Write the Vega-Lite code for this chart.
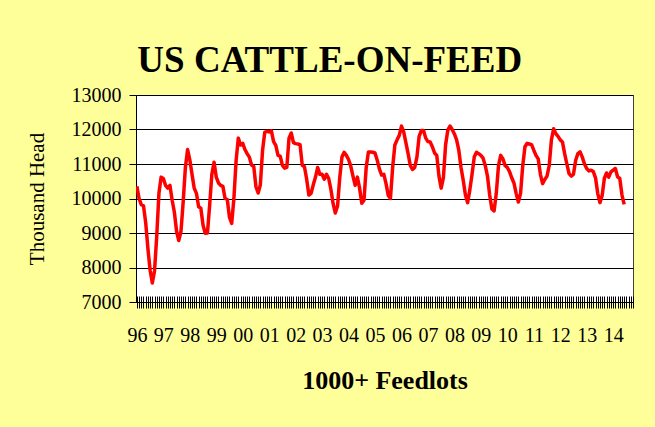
{
  "$schema": "https://vega.github.io/schema/vega-lite/v6.json",
  "width": 497,
  "height": 207,
  "autosize": {"type": "none"},
  "padding": {"left": 136, "top": 95, "right": 22, "bottom": 125},
  "background": "#FFFF99",
  "config": {
    "view": {"fill": "white", "stroke": "#404040", "strokeWidth": 1},
    "font": "Liberation Serif"
  },
  "title": {
    "text": "US CATTLE-ON-FEED",
    "font": "Liberation Serif",
    "fontSize": 37,
    "fontWeight": "bold",
    "color": "black",
    "anchor": "middle",
    "frame": "bounds",
    "baseline": "alphabetic",
    "offset": -24
  },
  "data": {
    "values": [
      {"month": 0, "head": 10350}, {"month": 1, "head": 10000}, {"month": 2, "head": 9820}, {"month": 3, "head": 9790},
      {"month": 4, "head": 9300}, {"month": 5, "head": 8550}, {"month": 6, "head": 7920}, {"month": 7, "head": 7550},
      {"month": 8, "head": 7900}, {"month": 9, "head": 8900}, {"month": 10, "head": 10150}, {"month": 11, "head": 10620},
      {"month": 12, "head": 10580}, {"month": 13, "head": 10380}, {"month": 14, "head": 10300}, {"month": 15, "head": 10380},
      {"month": 16, "head": 9950}, {"month": 17, "head": 9600}, {"month": 18, "head": 9050}, {"month": 19, "head": 8780},
      {"month": 20, "head": 9050}, {"month": 21, "head": 9900}, {"month": 22, "head": 10900}, {"month": 23, "head": 11420},
      {"month": 24, "head": 11120}, {"month": 25, "head": 10700}, {"month": 26, "head": 10300}, {"month": 27, "head": 10150},
      {"month": 28, "head": 9760}, {"month": 29, "head": 9720}, {"month": 30, "head": 9230}, {"month": 31, "head": 8990},
      {"month": 32, "head": 9000}, {"month": 33, "head": 9800}, {"month": 34, "head": 10700}, {"month": 35, "head": 11050},
      {"month": 36, "head": 10620}, {"month": 37, "head": 10450}, {"month": 38, "head": 10380}, {"month": 39, "head": 10350},
      {"month": 40, "head": 10000}, {"month": 41, "head": 9970}, {"month": 42, "head": 9450}, {"month": 43, "head": 9280},
      {"month": 44, "head": 10000}, {"month": 45, "head": 11100}, {"month": 46, "head": 11750}, {"month": 47, "head": 11550},
      {"month": 48, "head": 11600}, {"month": 49, "head": 11420}, {"month": 50, "head": 11300}, {"month": 51, "head": 11200},
      {"month": 52, "head": 10970}, {"month": 53, "head": 10930}, {"month": 54, "head": 10340}, {"month": 55, "head": 10160},
      {"month": 56, "head": 10400}, {"month": 57, "head": 11400}, {"month": 58, "head": 11920}, {"month": 59, "head": 11950},
      {"month": 60, "head": 11930}, {"month": 61, "head": 11960}, {"month": 62, "head": 11650}, {"month": 63, "head": 11540},
      {"month": 64, "head": 11250}, {"month": 65, "head": 11230}, {"month": 66, "head": 10960}, {"month": 67, "head": 10880},
      {"month": 68, "head": 10900}, {"month": 69, "head": 11750}, {"month": 70, "head": 11900}, {"month": 71, "head": 11620},
      {"month": 72, "head": 11590}, {"month": 73, "head": 11580}, {"month": 74, "head": 11560}, {"month": 75, "head": 10960},
      {"month": 76, "head": 10920}, {"month": 77, "head": 10560}, {"month": 78, "head": 10100}, {"month": 79, "head": 10150},
      {"month": 80, "head": 10400}, {"month": 81, "head": 10620}, {"month": 82, "head": 10900}, {"month": 83, "head": 10700},
      {"month": 84, "head": 10700}, {"month": 85, "head": 10560}, {"month": 86, "head": 10700}, {"month": 87, "head": 10580},
      {"month": 88, "head": 10260}, {"month": 89, "head": 9850}, {"month": 90, "head": 9580}, {"month": 91, "head": 9780},
      {"month": 92, "head": 10600}, {"month": 93, "head": 11200}, {"month": 94, "head": 11340}, {"month": 95, "head": 11250},
      {"month": 96, "head": 11130}, {"month": 97, "head": 10940}, {"month": 98, "head": 10650}, {"month": 99, "head": 10380},
      {"month": 100, "head": 10620}, {"month": 101, "head": 10300}, {"month": 102, "head": 9860}, {"month": 103, "head": 9950},
      {"month": 104, "head": 10900}, {"month": 105, "head": 11350}, {"month": 106, "head": 11350}, {"month": 107, "head": 11340},
      {"month": 108, "head": 11320}, {"month": 109, "head": 11110}, {"month": 110, "head": 10850}, {"month": 111, "head": 10680},
      {"month": 112, "head": 10700}, {"month": 113, "head": 10430}, {"month": 114, "head": 10090}, {"month": 115, "head": 10000},
      {"month": 116, "head": 10900}, {"month": 117, "head": 11550}, {"month": 118, "head": 11700}, {"month": 119, "head": 11830},
      {"month": 120, "head": 12100}, {"month": 121, "head": 11930}, {"month": 122, "head": 11620}, {"month": 123, "head": 11300},
      {"month": 124, "head": 10960}, {"month": 125, "head": 10840}, {"month": 126, "head": 10900}, {"month": 127, "head": 11200},
      {"month": 128, "head": 11800}, {"month": 129, "head": 11970}, {"month": 130, "head": 11970}, {"month": 131, "head": 11750},
      {"month": 132, "head": 11650}, {"month": 133, "head": 11640}, {"month": 134, "head": 11500}, {"month": 135, "head": 11320},
      {"month": 136, "head": 11250}, {"month": 137, "head": 10650}, {"month": 138, "head": 10300}, {"month": 139, "head": 10600},
      {"month": 140, "head": 11550}, {"month": 141, "head": 11980}, {"month": 142, "head": 12100}, {"month": 143, "head": 12000},
      {"month": 144, "head": 11870}, {"month": 145, "head": 11700}, {"month": 146, "head": 11400}, {"month": 147, "head": 10900},
      {"month": 148, "head": 10530}, {"month": 149, "head": 10100}, {"month": 150, "head": 9880}, {"month": 151, "head": 10250},
      {"month": 152, "head": 10700}, {"month": 153, "head": 11200}, {"month": 154, "head": 11340}, {"month": 155, "head": 11300},
      {"month": 156, "head": 11250}, {"month": 157, "head": 11170}, {"month": 158, "head": 10950}, {"month": 159, "head": 10650},
      {"month": 160, "head": 10100}, {"month": 161, "head": 9700}, {"month": 162, "head": 9640}, {"month": 163, "head": 10150},
      {"month": 164, "head": 10950}, {"month": 165, "head": 11250}, {"month": 166, "head": 11150}, {"month": 167, "head": 10950},
      {"month": 168, "head": 10900}, {"month": 169, "head": 10780}, {"month": 170, "head": 10600}, {"month": 171, "head": 10450},
      {"month": 172, "head": 10150}, {"month": 173, "head": 9900}, {"month": 174, "head": 10150}, {"month": 175, "head": 10950},
      {"month": 176, "head": 11500}, {"month": 177, "head": 11600}, {"month": 178, "head": 11580}, {"month": 179, "head": 11560},
      {"month": 180, "head": 11400}, {"month": 181, "head": 11250}, {"month": 182, "head": 11150}, {"month": 183, "head": 10700},
      {"month": 184, "head": 10430}, {"month": 185, "head": 10550}, {"month": 186, "head": 10650}, {"month": 187, "head": 10950},
      {"month": 188, "head": 11700}, {"month": 189, "head": 12020}, {"month": 190, "head": 11880}, {"month": 191, "head": 11800},
      {"month": 192, "head": 11700}, {"month": 193, "head": 11640}, {"month": 194, "head": 11300}, {"month": 195, "head": 11000},
      {"month": 196, "head": 10720}, {"month": 197, "head": 10650}, {"month": 198, "head": 10700}, {"month": 199, "head": 11110},
      {"month": 200, "head": 11300}, {"month": 201, "head": 11350}, {"month": 202, "head": 11200}, {"month": 203, "head": 11000},
      {"month": 204, "head": 10870}, {"month": 205, "head": 10800}, {"month": 206, "head": 10820}, {"month": 207, "head": 10780},
      {"month": 208, "head": 10600}, {"month": 209, "head": 10150}, {"month": 210, "head": 9880}, {"month": 211, "head": 10080},
      {"month": 212, "head": 10580}, {"month": 213, "head": 10740}, {"month": 214, "head": 10620}, {"month": 215, "head": 10770},
      {"month": 216, "head": 10820}, {"month": 217, "head": 10870}, {"month": 218, "head": 10630}, {"month": 219, "head": 10580},
      {"month": 220, "head": 10100}, {"month": 221, "head": 9830}
    ]
  },
  "mark": {"type": "line", "color": "#FF0000", "strokeWidth": 3.5, "strokeJoin": "round", "clip": true},
  "encoding": {
    "x": {
      "field": "month",
      "type": "quantitative",
      "scale": {"domain": [-0.4, 225], "nice": false, "zero": false},
      "axis": {
        "title": "1000+ Feedlots",
        "titleFont": "Liberation Serif",
        "titleFontSize": 26,
        "titleFontWeight": "bold",
        "titleColor": "black",
        "titlePadding": 22,
        "tickCount": 226,
        "tickColor": "black",
        "tickWidth": 1,
        "tickSize": 12,
        "offset": -6,
        "domain": false,
        "grid": false,
        "labelExpr": "datum.value % 12 == 0 ? slice('0' + ((96 + datum.value / 12) % 100), -2) : ''",
        "labelOverlap": false,
        "labelFlush": false,
        "labelFont": "Liberation Serif",
        "labelFontSize": 20,
        "labelColor": "black",
        "labelPadding": 17
      }
    },
    "y": {
      "field": "head",
      "type": "quantitative",
      "scale": {"domain": [7000, 13000], "nice": false, "zero": false},
      "axis": {
        "title": "Thousand Head",
        "titleFont": "Liberation Serif",
        "titleFontSize": 21,
        "titleFontWeight": "normal",
        "titleColor": "black",
        "titlePadding": 24,
        "values": [7000, 8000, 9000, 10000, 11000, 12000, 13000],
        "format": "d",
        "grid": true,
        "gridColor": "black",
        "gridOpacity": 1,
        "gridWidth": 1,
        "domainColor": "black",
        "domainWidth": 1,
        "tickColor": "black",
        "tickSize": 7,
        "labelFont": "Liberation Serif",
        "labelFontSize": 20,
        "labelColor": "black",
        "labelPadding": 8
      }
    }
  }
}
